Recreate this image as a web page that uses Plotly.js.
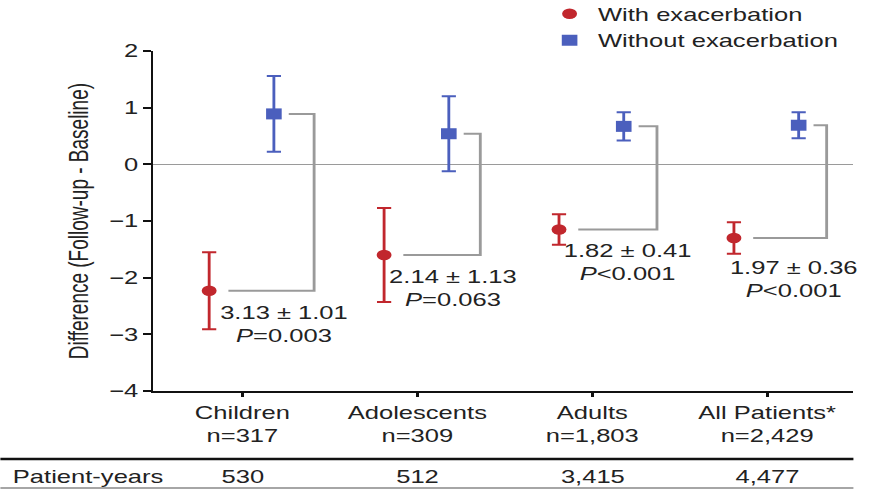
<!DOCTYPE html>
<html>
<head>
<meta charset="utf-8">
<script src="https://cdn.plot.ly/plotly-3.0.1.min.js"></script>
<style>
  html, body { margin: 0; padding: 0; background: #fff; overflow: hidden; }
  #chart { width: 612px; height: 490px; transform: scaleX(1.42); transform-origin: 0 0; }
</style>
</head>
<body>
<div id="chart"></div>
<script>
// ---- data ----
const categories = ['Children', 'Adolescents', 'Adults', 'All Patients*'];
const nLabels = ['n=317', 'n=309', 'n=1,803', 'n=2,429'];
const withMean = [-2.23, -1.60, -1.15, -1.30];
const withErr = [0.68, 0.83, 0.27, 0.28];
const withoutMean = [0.89, 0.54, 0.67, 0.69];
const withoutErr = [0.67, 0.66, 0.25, 0.23];
const diffText = ['3.13 ± 1.01', '2.14 ± 1.13', '1.82 ± 0.41', '1.97 ± 0.36'];
const pText = ['=0.003', '=0.063', '<0.001', '<0.001'];
const patientYears = ['530', '512', '3,415', '4,477'];
const yTicks = [-4, -3, -2, -1, 0, 1, 2];

// ---- layout constants ----
const RED = '#c1272d', BLUE = '#4b5fbd', GRAY = '#9a9a9a', TXT = '#222';
const FONT = 'Liberation Sans, Arial, Helvetica, sans-serif';
const offWith = -0.19, offWithout = 0.18;
const bracketX = [0.41, 0.36, 0.37, 0.34];
const labelDx = [0.24, 0.20, 0.20, 0.15];
const labelDy = [-0.60, -0.59, -0.58, -0.73];

const idx = categories.map((c, i) => i);
const esc = s => s.replace(/</g, '&lt;');

const traces = [
  {
    type: 'scatter', mode: 'markers', name: 'With exacerbation',
    x: idx.map(i => i + offWith), y: withMean,
    error_y: { type: 'data', array: withErr, visible: true, color: RED, thickness: 2, width: 5 },
    marker: { symbol: 'circle', size: 10.5, color: RED },
    cliponaxis: false
  },
  {
    type: 'scatter', mode: 'markers', name: 'Without exacerbation',
    x: idx.map(i => i + offWithout), y: withoutMean,
    error_y: { type: 'data', array: withoutErr, visible: true, color: BLUE, thickness: 2, width: 5 },
    marker: { symbol: 'square', size: 11, color: BLUE },
    cliponaxis: false
  }
];

const shapes = idx.map(i => ({
  type: 'path', xref: 'x', yref: 'y', layer: 'below',
  path: `M ${i + offWithout + 0.085},${withoutMean[i]} H ${i + bracketX[i]} V ${withMean[i]} H ${i + offWith + 0.11}`,
  line: { color: GRAY, width: 2 }
}));
shapes.push({ type: 'line', xref: 'paper', yref: 'paper', x0: -0.2185, x1: 1.0, y0: -0.2, y1: -0.2, line: { color: '#111', width: 2.5 } });
shapes.push({ type: 'line', xref: 'paper', yref: 'paper', x0: -0.2185, x1: 1.0, y0: -0.285, y1: -0.285, line: { color: '#888', width: 1.5 } });

const annotations = idx.map(i => ({
  xref: 'x', yref: 'y', x: i + labelDx[i], y: withMean[i] + labelDy[i],
  text: `${diffText[i]}<br><i>P</i>${esc(pText[i])}`,
  showarrow: false, align: 'center', xanchor: 'center', yanchor: 'middle',
  font: { family: FONT, size: 18, color: TXT }
}));
idx.forEach(i => annotations.push({
  xref: 'x', yref: 'paper', x: i, y: -0.253, text: patientYears[i],
  showarrow: false, xanchor: 'center', yanchor: 'middle',
  font: { family: FONT, size: 18, color: TXT }
}));
annotations.push({
  xref: 'paper', yref: 'paper', x: -0.204, y: -0.253, text: 'Patient-years',
  showarrow: false, xanchor: 'left', yanchor: 'middle',
  font: { family: FONT, size: 18, color: TXT }
});
annotations.push({
  xref: 'paper', yref: 'paper', x: -0.107, y: 0.5, text: 'Difference (Follow-up - Baseline)',
  textangle: -90, showarrow: false, xanchor: 'center', yanchor: 'middle',
  font: { family: FONT, size: 19, color: TXT }
});

const layout = {
  width: 612, height: 490,
  margin: { l: 108, r: 11, t: 51, b: 99, autoexpand: false },
  paper_bgcolor: '#fff', plot_bgcolor: '#fff',
  font: { family: FONT, size: 18, color: TXT },
  showlegend: true,
  legend: {
    x: 0.554, y: 1.163, xanchor: 'left', yanchor: 'top',
    font: { family: FONT, size: 18, color: TXT },
    bgcolor: 'rgba(0,0,0,0)', tracegroupgap: 0
  },
  xaxis: {
    range: [-0.509, 3.493], tickmode: 'array', tickvals: idx,
    ticktext: idx.map(i => `${categories[i]}<br>${nLabels[i]}`),
    showline: true, linecolor: '#111', linewidth: 2,
    ticks: 'outside', ticklen: 4, tickwidth: 2, tickcolor: '#111',
    showgrid: false, zeroline: false, tickfont: { family: FONT, size: 18, color: TXT }
  },
  yaxis: {
    range: [-4, 2], tickmode: 'array', tickvals: yTicks,
    showline: true, linecolor: '#111', linewidth: 2,
    ticks: 'outside', ticklen: 5, tickwidth: 2, tickcolor: '#111',
    showgrid: false, zeroline: true, zerolinecolor: GRAY, zerolinewidth: 1.5,
    tickfont: { family: FONT, size: 18, color: TXT }
  },
  shapes: shapes,
  annotations: annotations
};

Plotly.newPlot('chart', traces, layout, { displayModeBar: false, staticPlot: true });
</script>
</body>
</html>
